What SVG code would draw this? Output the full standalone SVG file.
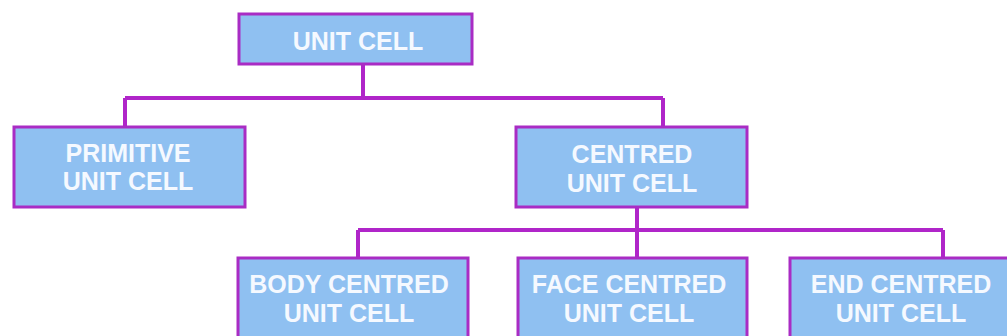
<svg xmlns="http://www.w3.org/2000/svg" width="1007" height="336" viewBox="0 0 1007 336">
<style>
.box{fill:#8fc0f1;stroke:#a92cc4;stroke-width:3}
.lbl{font-family:"Liberation Sans",Arial,sans-serif;font-weight:bold;font-size:25px;fill:#f5f9ff;text-anchor:middle}
.conn{fill:none;stroke:#b025c9;stroke-width:4}
</style>
<rect width="1007" height="336" fill="#ffffff"/>
<g id="connectors">
<path class="conn" d="M363 64V98M125 98H663M125 98V127M663 98V127"/>
<path class="conn" d="M637 207V230M358 230H943M358 230V258M637 230V258M943 230V258"/>
</g>
<g id="unit-cell">
<rect class="box" x="239" y="14" width="233" height="50"/>
<text class="lbl" x="358" y="50">UNIT CELL</text>
</g>
<g id="primitive">
<rect class="box" x="14" y="127" width="231" height="80"/>
<text class="lbl" x="128" y="162">PRIMITIVE</text>
<text class="lbl" x="128" y="190">UNIT CELL</text>
</g>
<g id="centred">
<rect class="box" x="516" y="127" width="231" height="80"/>
<text class="lbl" x="632" y="163">CENTRED</text>
<text class="lbl" x="632" y="192">UNIT CELL</text>
</g>
<g id="body-centred">
<rect class="box" x="238" y="258" width="230" height="90"/>
<text class="lbl" x="349" y="293">BODY CENTRED</text>
<text class="lbl" x="349" y="322">UNIT CELL</text>
</g>
<g id="face-centred">
<rect class="box" x="518" y="258" width="229" height="90"/>
<text class="lbl" x="629" y="293">FACE CENTRED</text>
<text class="lbl" x="629" y="322">UNIT CELL</text>
</g>
<g id="end-centred">
<rect class="box" x="790" y="258" width="240" height="90"/>
<text class="lbl" x="901" y="293">END CENTRED</text>
<text class="lbl" x="901" y="322">UNIT CELL</text>
</g>
</svg>
